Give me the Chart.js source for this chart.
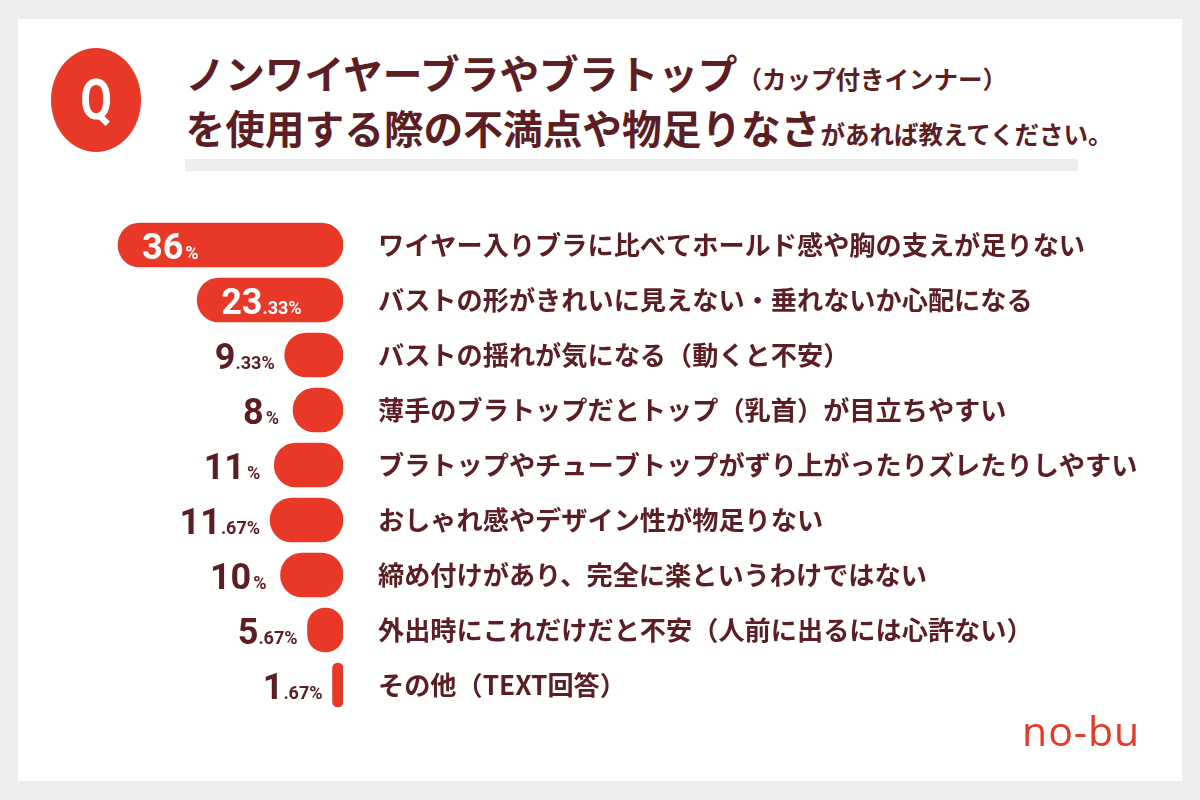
<!DOCTYPE html>
<html lang="ja">
<head>
<meta charset="utf-8">
<title>no-bu</title>
<script src="https://cdn.jsdelivr.net/npm/chart.js@4"></script>
<style>
    html, body { margin: 0; padding: 0; background: #eeedef; }
    #page { position: relative; width: 1200px; height: 800px; overflow: hidden; font-family: "Noto Sans CJK JP", sans-serif; color: #5b1e24; }
    #card { position: absolute; left: 18px; top: 19px; width: 1164px; height: 762px; background: #fff; }
    #chart { position: absolute; left: 0; top: 0; }
    #badge { position: absolute; left: 51px; top: 48px; width: 90px; height: 104px; border-radius: 50%; background: #e73828; color: #fff; font: 700 46px Roboto, sans-serif; line-height: 104px; text-align: center; }
    #badge span { display: inline-block; transform: scaleY(1.2); }
    .line { position: absolute; left: 185.5px; white-space: nowrap; font-weight: 700; font-size: 39.7px; line-height: 56px; }
    .line small { font-size: 24.5px; font-weight: 700; }
    #rule { position: absolute; left: 185px; top: 159px; width: 893px; height: 12px; background: #eeecee; }
    #logo { position: absolute; left: 1022px; top: 702px; font: 500 41px "Open Sans", sans-serif; color: #e73828; letter-spacing: 1px; line-height: 56px; }
</style>
</head>
<body>
<div id="page">
    <div id="card"></div>
    <div id="badge"><span>Q</span></div>
    <div class="line" style="top:44px">ノンワイヤーブラやブラトップ<small>（カップ付きインナー）</small></div>
    <div class="line" style="top:99px">を使用する際の不満点や物足りなさ<small>があれば教えてください。</small></div>
    <div id="rule"></div>
    <canvas id="chart" width="1200" height="800"></canvas>
    <div id="logo">no-bu</div>
</div>
<script>
const categories = [
    'ワイヤー入りブラに比べてホールド感や胸の支えが足りない',
    'バストの形がきれいに見えない・垂れないか心配になる',
    'バストの揺れが気になる（動くと不安）',
    '薄手のブラトップだとトップ（乳首）が目立ちやすい',
    'ブラトップやチューブトップがずり上がったりズレたりしやすい',
    'おしゃれ感やデザイン性が物足りない',
    '締め付けがあり、完全に楽というわけではない',
    '外出時にこれだけだと不安（人前に出るには心許ない）',
    'その他（TEXT回答）'
];
const percents = [36, 23.33, 9.33, 8, 11, 11.67, 10, 5.67, 1.67];

const RED = '#e73828';
const DARK = '#5b1e24';

// draw "36%" style labels, big whole part and small decimals
const valueLabels = {
    id: 'valueLabels',
    afterDatasetsDraw(chart) {
        const ctx = chart.ctx;
        const bars = chart.getDatasetMeta(0).data;
        bars.forEach((bar, i) => {
            const parts = String(percents[i]).split('.');
            const big = parts[0];
            const small = (parts[1] ? '.' + parts[1] : '') + '%';
            const bigFont = '700 36px Roboto, sans-serif';
            const smallFont = '700 18px Roboto, sans-serif';
            const join = parts[1] ? 0 : 2;
            ctx.save();
            ctx.textBaseline = 'alphabetic';
            ctx.textAlign = 'left';
            ctx.font = bigFont;
            const bigW = ctx.measureText(big).width;
            ctx.font = smallFont;
            const smallW = ctx.measureText(small).width;
            const inside = percents[i] > 20;
            const gap = parts[1] ? 10 : 14;
            const left = inside ? bar.x + 24 : bar.x - gap - bigW - join - smallW;
            const base = bar.y + 14;
            ctx.fillStyle = inside ? '#fff' : DARK;
            ctx.font = bigFont;
            ctx.fillText(big, left, base);
            ctx.font = smallFont;
            ctx.fillText(small, left + bigW + join, base);
            ctx.restore();
        });
    }
};

new Chart(document.getElementById('chart').getContext('2d'), {
    type: 'bar',
    data: {
        labels: categories,
        datasets: [{
            data: percents,
            backgroundColor: RED,
            barThickness: 44,
            borderRadius: 22,
            borderSkipped: false
        }]
    },
    options: {
        indexAxis: 'y',
        responsive: false,
        animation: false,
        layout: { padding: { left: 30.5, top: 217.5, bottom: 87.5, right: 0 } },
        plugins: {
            legend: { display: false },
            tooltip: { enabled: false }
        },
        scales: {
            x: { display: false, reverse: true, min: 0, max: 50 },
            y: {
                position: 'right',
                grid: { display: false, drawTicks: false },
                border: { display: false },
                afterFit(scale) { scale.width = 857; },
                ticks: {
                    padding: 35,
                    autoSkip: false,
                    color: DARK,
                    font: { family: '"Noto Sans CJK JP", sans-serif', size: 26.2, weight: '700' }
                }
            }
        }
    },
    plugins: [valueLabels]
});
</script>
</body>
</html>
